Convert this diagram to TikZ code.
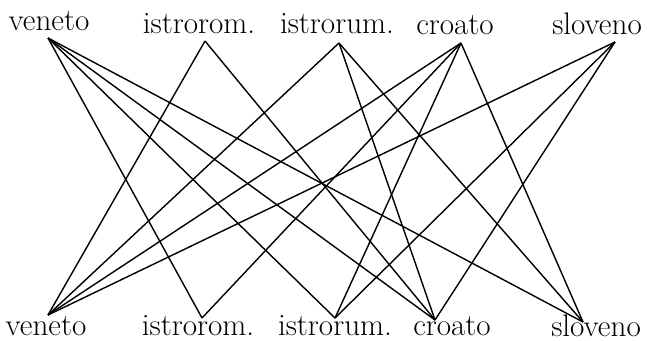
\documentclass[tikz,border=0pt]{standalone}
\usepackage{fontspec}
\tikzstyle{lang}=[inner sep=0pt, anchor=base, font=\fontsize{17.7}{20}\selectfont]
\tikzstyle{link}=[black, line width=0.8pt, line join=round]

\begin{document}
\begin{tikzpicture}[x=0.2mm, y=-0.2mm]
	\useasboundingbox (0,0) rectangle (647,341);

	% Names of the upper row
	\node[lang] (Tv)  at ( 49,30) {veneto};
	\node[lang] (Tir) at (199,33) {istrorom.};
	\node[lang] (Tiu) at (337,33) {istrorum.};
	\node[lang] (Tc)  at (455,35) {croato};
	\node[lang] (Ts)  at (597,35) {sloveno};

	% Names of the lower row
	\node[lang] (Bv)  at ( 46,335) {veneto};
	\node[lang] (Bir) at (198,335) {istrorom.};
	\node[lang] (Biu) at (335,335) {istrorum.};
	\node[lang] (Bc)  at (452,335) {croato};
	\node[lang] (Bs)  at (596,336) {sloveno};

	% Points where the lines meet
	\coordinate (tv)  at ( 48, 38);
	\coordinate (tir) at (205, 41);
	\coordinate (tiu) at (339, 43);
	\coordinate (tc)  at (461, 43);
	\coordinate (ts)  at (615, 42);

	\coordinate (bv)  at ( 48,315);
	\coordinate (bir) at (202,318);
	\coordinate (biu) at (335,318);
	\coordinate (bc)  at (435,320);
	\coordinate (bs)  at (583,322);

	% Links between the two rows
	\foreach \a/\b in {tv/bir, tv/biu, tv/bc, tv/bs,
			tir/bv, tir/bc,
			tiu/bv, tiu/bc, tiu/bs,
			tc/bv, tc/bir, tc/biu, tc/bs,
			ts/bv, ts/biu, ts/bc}{
		\draw[link] (\a) -- (\b);
	}
\end{tikzpicture}
\end{document}
